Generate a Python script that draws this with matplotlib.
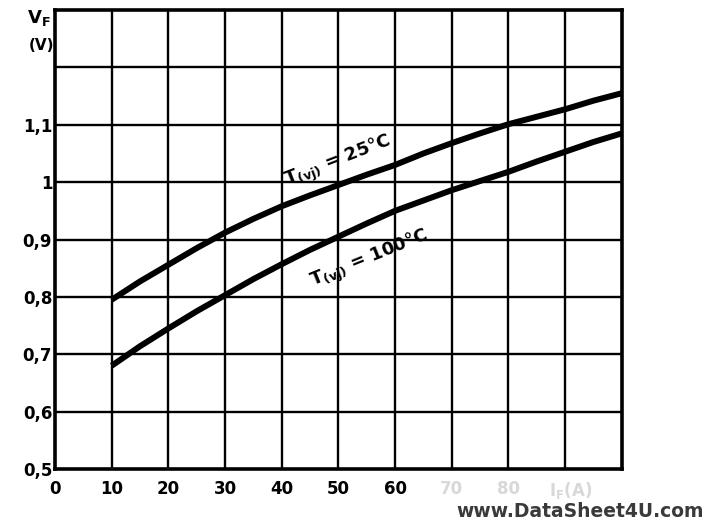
import numpy as np
import matplotlib.pyplot as plt

# Data
i_f = [10, 15, 20, 25, 30, 35, 40, 45, 50, 55, 60, 65, 70, 75, 80, 85, 90, 95, 100]
vf_25 = [0.795, 0.827, 0.856, 0.885, 0.912, 0.936, 0.958, 0.977, 0.995, 1.013,
         1.030, 1.050, 1.068, 1.085, 1.101, 1.114, 1.127, 1.142, 1.155]
vf_100 = [0.680, 0.714, 0.745, 0.775, 0.803, 0.831, 0.857, 0.882, 0.905, 0.928,
          0.950, 0.968, 0.986, 1.002, 1.018, 1.036, 1.053, 1.070, 1.085]

x_ticks = [0, 10, 20, 30, 40, 50, 60, 70, 80, 91]
x_labels = ['0', '10', '20', '30', '40', '50', '60', '70', '80', r'I$_F$(A)']
y_ticks = [0.5, 0.6, 0.7, 0.8, 0.9, 1.0, 1.1]
y_labels = ['0,5', '0,6', '0,7', '0,8', '0,9', '1', '1,1']

plt.rcParams['font.family'] = ['DejaVu Sans']
plt.rcParams['font.weight'] = 'bold'
plt.rcParams['mathtext.default'] = 'regular'

fig = plt.figure(figsize=(7.09, 5.21), dpi=100)
ax = fig.add_axes([0.0776, 0.0998, 0.7995, 0.881])
ax.set_xlim(0, 100)
ax.set_ylim(0.5, 1.3)

# grid
for gx in np.arange(10, 100, 10):
    ax.axvline(gx, color='black', lw=1.7, zorder=1)
for gy in np.arange(0.6, 1.3, 0.1):
    ax.axhline(gy, color='black', lw=1.7, zorder=1)
for sp in ax.spines.values():
    sp.set_linewidth(2.6)

ax.plot(i_f, vf_25, color='black', lw=4.3, solid_capstyle='butt', zorder=3)
ax.plot(i_f, vf_100, color='black', lw=4.3, solid_capstyle='butt', zorder=3)

ax.text(50.0, 1.036, r'T$_{(vj)}$ = 25°C', rotation=21, fontsize=13, fontweight='bold',
        ha='center', va='center', rotation_mode='anchor', zorder=4)
ax.text(55.5, 0.866, r'T$_{(vj)}$ = 100°C', rotation=22, fontsize=13, fontweight='bold',
        ha='center', va='center', rotation_mode='anchor', zorder=4)

ax.set_xticks(x_ticks)
ax.set_xticklabels(x_labels, fontsize=12, fontweight='bold')
for lbl in ax.get_xticklabels()[7:]:
    lbl.set_color('#d8d8d8')
ax.set_yticks(y_ticks)
ax.set_yticklabels(y_labels, fontsize=12, fontweight='bold')
ax.tick_params(length=0, pad=2)
ax.tick_params(axis='x', pad=8)

fig.text(0.072, 0.965, r'V$_F$', fontsize=13, fontweight='bold', ha='right', va='center')
fig.text(0.076, 0.913, '(V)', fontsize=11, fontweight='bold', ha='right', va='center')

fig.text(0.993, 0.0, 'www.DataSheet4U.com', fontsize=13.5, color='#3a3a3a',
         fontweight='bold', ha='right', va='bottom')

fig.savefig('out.png', dpi=100)
